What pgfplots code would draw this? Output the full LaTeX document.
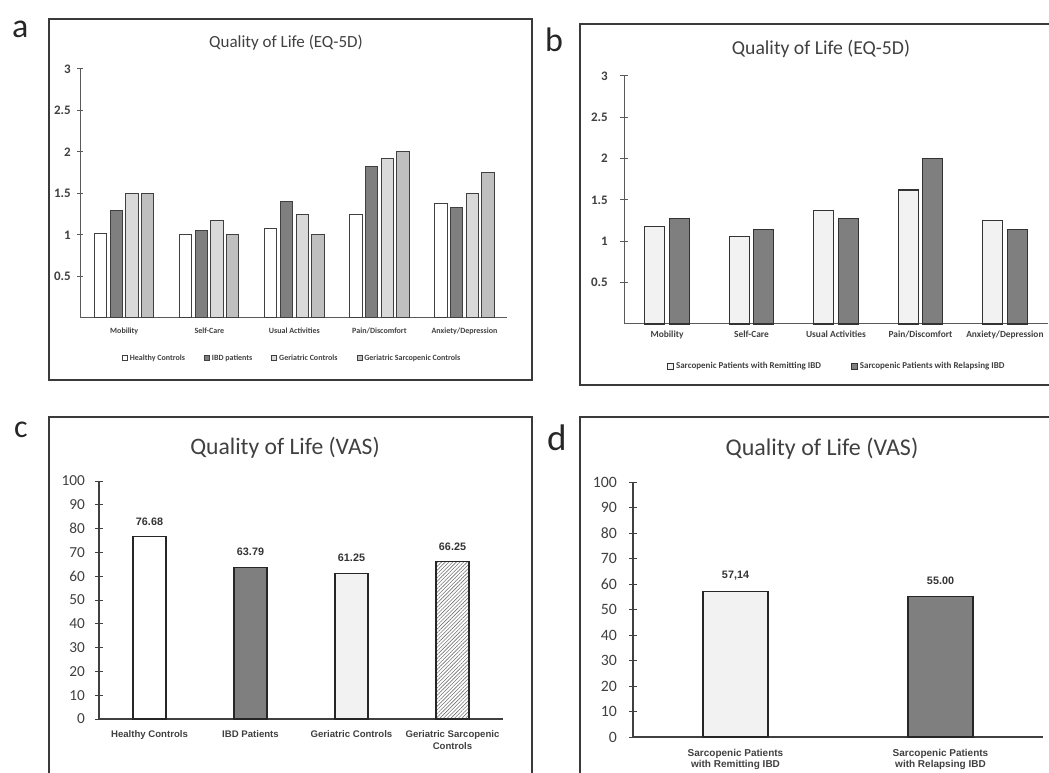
\documentclass[border=0pt]{standalone}
\usepackage{fontspec}
\setmainfont{Carlito}
\newfontfamily\arial{Liberation Sans}
\usepackage{pgfplots}
\pgfplotsset{compat=1.18}
\usetikzlibrary{patterns.meta}

\definecolor{frame}{HTML}{3A3A3A}
\definecolor{axisg}{HTML}{5A5A5A}
\definecolor{txt}{HTML}{404040}
\definecolor{dk}{HTML}{7F7F7F}
\definecolor{lg}{HTML}{D9D9D9}
\definecolor{mg}{HTML}{BFBFBF}
\definecolor{lite}{HTML}{F2F2F2}
\newcommand{\fs}[1]{\fontsize{#1}{#1}\selectfont}

\pgfplotsset{
  panel/.style={scale only axis, anchor=south west, clip=false,
    axis x line*=bottom, axis y line*=left,
    axis line style={-, color=axisg, line width=1pt},
    x axis line style={-}, y axis line style={-},
    xtick style={draw=none}, ytick style={color=axisg, line width=1pt},
    tick align=center},
  sqa/.style={legend image code/.code={\draw[##1,line width=0.8pt] (0pt,-2.5pt) rectangle (5pt,2.5pt);}},
  sqb/.style={legend image code/.code={\draw[##1,line width=0.8pt] (0pt,-3pt) rectangle (6pt,3pt);}},
}

\begin{document}
\begin{tikzpicture}
\path[use as bounding box] (0,0) rectangle (1049pt,772pt);
\clip (0,0) rectangle (1049pt,772pt);

% frames
\draw[frame, line width=2pt] (49pt,392pt) rectangle (532pt,753pt);
\draw[frame, line width=2pt] (580pt,387pt) rectangle (1070pt,748pt);
\draw[frame, line width=2pt] (49pt,-30pt) rectangle (532pt,355pt);
\draw[frame, line width=2pt] (580pt,-30pt) rectangle (1070pt,355pt);

% panel letters
\node[anchor=base west, inner sep=0pt, font=\fs{34}, text=black!85] at (12pt,734pt) {a};
\node[anchor=base west, inner sep=0pt, font=\fs{34}, text=black!85] at (545pt,720pt) {b};
\node[anchor=base west, inner sep=0pt, font=\fs{32}, text=black!85] at (14pt,335pt) {c};
\node[anchor=base west, inner sep=0pt, font=\fs{37}, text=black!85] at (547pt,322pt) {d};

% titles
\node[anchor=base, inner sep=0pt, font=\fs{17}, text=txt] at (286pt,724pt) {Quality of Life (EQ-5D)};
\node[anchor=base, inner sep=0pt, font=\fs{19.7}, text=txt] at (821pt,717pt) {Quality of Life (EQ-5D)};
\node[anchor=base, inner sep=0pt, font=\fs{23.6}, text=txt] at (285pt,318pt) {Quality of Life (VAS)};
\node[anchor=base, inner sep=0pt, font=\fs{24}, text=txt] at (822pt,317pt) {Quality of Life (VAS)};

% ---------- panel a ----------
\begin{axis}[panel, at={(80pt,454pt)}, width=427pt, height=249pt,
  xmin=-0.52, xmax=4.5, ymin=0, ymax=3,
  ybar=3.4pt, bar width=12.3pt, major tick length=6pt,
  xtick={0,1,2,3,4},
  xticklabels={Mobility,Self-Care,Usual Activities,Pain/Discomfort,Anxiety/Depression},
  xticklabel style={font=\fs{8}\bfseries, text=txt, inner sep=0pt, yshift=-4pt},
  ytick={0.5,1,1.5,2,2.5,3}, yticklabels={0.5,1,1.5,2,2.5,3},
  yticklabel style={font=\fs{13}\bfseries, text=txt, inner sep=0pt, xshift=-6pt},
  legend columns=4,
  legend style={draw=none, fill=none, at={(0.497,-0.161)}, anchor=center,
    font=\fs{8}\bfseries, text=txt, /tikz/every even column/.append style={column sep=17pt}},
]
\addplot[sqa, fill=white, draw=black!75, line width=1pt] coordinates {(0,1.02) (1,1.00) (2,1.08) (3,1.25) (4,1.38)};
\addplot[sqa, fill=dk, draw=black!75, line width=1pt] coordinates {(0,1.29) (1,1.05) (2,1.40) (3,1.82) (4,1.33)};
\addplot[sqa, fill=lg, draw=black!75, line width=1pt] coordinates {(0,1.50) (1,1.17) (2,1.25) (3,1.92) (4,1.50)};
\addplot[sqa, fill=mg, draw=black!75, line width=1pt] coordinates {(0,1.50) (1,1.00) (2,1.00) (3,2.00) (4,1.75)};
\legend{Healthy Controls, IBD patients, Geriatric Controls, Geriatric Sarcopenic Controls}
\end{axis}

% ---------- panel b ----------
\begin{axis}[panel, at={(624pt,448pt)}, width=424pt, height=248pt,
  xmin=-0.51, xmax=4.51, ymin=0, ymax=3,
  ybar=4.5pt, bar width=20pt, major tick length=8pt,
  xtick={0,1,2,3,4},
  xticklabels={Mobility,Self-Care,Usual Activities,Pain/Discomfort,Anxiety/Depression},
  xticklabel style={font=\fs{9.4}\bfseries, text=txt, inner sep=0pt, yshift=1pt},
  ytick={0.5,1,1.5,2,2.5,3}, yticklabels={0.5,1,1.5,2,2.5,3},
  yticklabel style={font=\fs{13}\bfseries, text=txt, inner sep=0pt, xshift=-12pt},
  legend columns=2,
  legend style={draw=none, fill=none, at={(0.502,-0.169)}, anchor=center,
    font=\fs{9}\bfseries, text=txt, /tikz/every even column/.append style={column sep=28pt}},
]
\addplot[sqb, fill=lite, draw=black!80, line width=1.2pt] coordinates {(0,1.18) (1,1.06) (2,1.37) (3,1.62) (4,1.25)};
\addplot[sqb, fill=dk, draw=black!80, line width=1.2pt] coordinates {(0,1.28) (1,1.14) (2,1.28) (3,2.00) (4,1.14)};
\legend{Sarcopenic Patients with Remitting IBD, Sarcopenic Patients with Relapsing IBD}
\end{axis}

% ---------- panel c ----------
\begin{axis}[panel, at={(99pt,53pt)}, width=404pt, height=238pt,
  xmin=-0.5, xmax=3.5, ymin=0, ymax=100,
  ybar, bar width=33pt, major tick length=8pt,
  axis line style={-, color=black!75, line width=1.2pt},
  ytick style={color=black!75, line width=1pt},
  xtick={0,1,2,3},
  xticklabels={Healthy Controls, IBD Patients, Geriatric Controls, {Geriatric Sarcopenic\\Controls}},
  xticklabel style={font=\arial\bfseries\fontsize{9.6}{12}\selectfont, text=txt, align=center, inner sep=0pt, yshift=-3pt},
  ytick={0,10,20,30,40,50,60,70,80,90,100},
  yticklabels={0,10,20,30,40,50,60,70,80,90,100},
  yticklabel style={font=\fs{15.3}, text=txt, inner sep=0pt, xshift=-10pt},
  point meta=explicit symbolic, nodes near coords,
  nodes near coords style={font=\arial\bfseries\fs{10.8}, text=black!80, anchor=center, yshift=15pt},
]
\addplot[bar shift=0pt, fill=white, draw=black!85, line width=1.3pt] coordinates {(0,76.68) [76.68]};
\addplot[bar shift=0pt, fill=dk, draw=black!85, line width=1.3pt] coordinates {(1,63.79) [63.79]};
\addplot[bar shift=0pt, fill=lite, draw=black!85, line width=1.3pt] coordinates {(2,61.25) [61.25]};
\addplot[bar shift=0pt, pattern={Lines[angle=45, distance=2.6pt, line width=0.6pt]}, pattern color=black!55, draw=black!85, line width=1.3pt] coordinates {(3,66.25) [66.25]};
\end{axis}

% ---------- panel d ----------
\begin{axis}[panel, at={(633pt,35pt)}, width=410pt, height=255pt,
  xmin=-0.5, xmax=1.5, ymin=0, ymax=100,
  ybar, bar width=65pt, major tick length=8pt,
  axis line style={-, color=black!75, line width=1.2pt},
  ytick style={color=black!75, line width=1pt},
  xtick={0,1},
  xticklabels={{Sarcopenic Patients\\with Remitting IBD}, {Sarcopenic Patients\\with Relapsing IBD}},
  xticklabel style={font=\arial\bfseries\fontsize{10}{11}\selectfont, text=txt, align=center, inner sep=0pt, yshift=-4pt},
  ytick={0,10,20,30,40,50,60,70,80,90,100},
  yticklabels={0,10,20,30,40,50,60,70,80,90,100},
  yticklabel style={font=\fs{15.8}, text=txt, inner sep=0pt, xshift=-12pt},
  point meta=explicit symbolic, nodes near coords,
  nodes near coords style={font=\arial\bfseries\fs{10.8}, text=black!80, anchor=center, yshift=16pt},
]
\addplot[bar shift=0pt, fill=lite, draw=black!85, line width=1.3pt] coordinates {(0,57.14) [{57,14}]};
\addplot[bar shift=0pt, fill=dk, draw=black!85, line width=1.3pt] coordinates {(1,55.00) [55.00]};
\end{axis}
\end{tikzpicture}
\end{document}
